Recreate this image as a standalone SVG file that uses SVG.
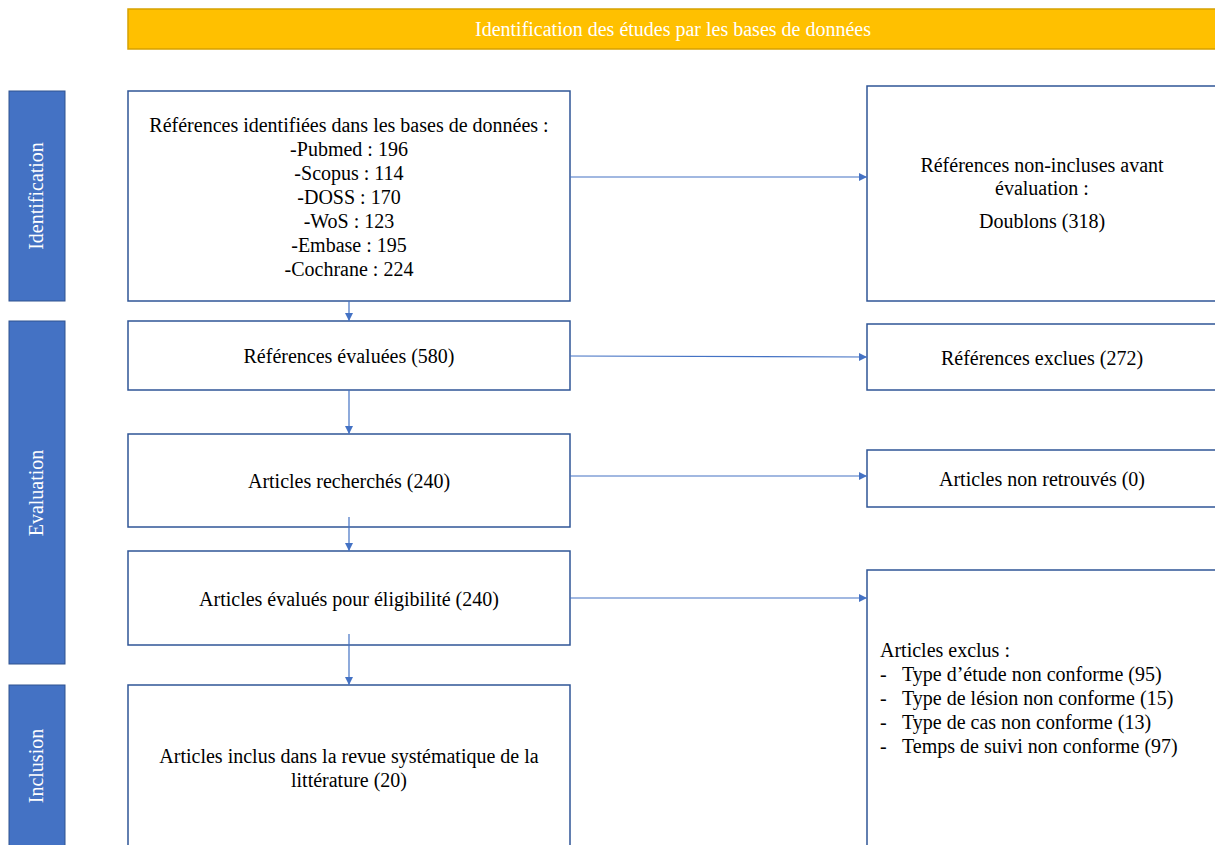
<svg xmlns="http://www.w3.org/2000/svg" width="1215" height="845" viewBox="0 0 1215 845">
<style>
.box{fill:#fff;stroke:#2F5597;stroke-width:1.5}
.side{fill:#4472C4;stroke:#2F528F;stroke-width:1}
.t{font-family:"Liberation Serif","Times New Roman",serif;font-size:20px;fill:#000}
.c{text-anchor:middle}
.w{fill:#fff}
.con{stroke:#4472C4;stroke-width:1.2;fill:none;marker-end:url(#ah)}
</style>
<defs>
<marker id="ah" viewBox="0 0 10 10" refX="10" refY="5" markerWidth="8" markerHeight="8" markerUnits="userSpaceOnUse" orient="auto">
<path d="M0,0 L10,5 L0,10 z" fill="#4472C4"/>
</marker>
</defs>
<rect width="1215" height="845" fill="#fff"/>
<g id="header">
<rect x="128" y="9" width="1092" height="40" fill="#FFC000" stroke="#D6A100" stroke-width="1.5"/>
<text class="t c w" x="673" y="36">Identification des études par les bases de données</text>
</g>
<g id="side-identification">
<rect class="side" x="9" y="91" width="56" height="210"/>
<text class="t c w" transform="translate(43,196) rotate(-90)">Identification</text>
</g>
<g id="side-evaluation">
<rect class="side" x="9" y="321" width="56" height="343"/>
<text class="t c w" transform="translate(43,493) rotate(-90)">Evaluation</text>
</g>
<g id="side-inclusion">
<rect class="side" x="9" y="685" width="56" height="170"/>
<text class="t c w" transform="translate(43,766) rotate(-90)">Inclusion</text>
</g>
<g id="n1">
<rect class="box" x="128" y="91" width="442" height="210"/>
<text class="t c" x="349" y="132">Références identifiées dans les bases de données :</text>
<text class="t c" x="349" y="156">-Pubmed : 196</text>
<text class="t c" x="349" y="180">-Scopus : 114</text>
<text class="t c" x="349" y="204">-DOSS : 170</text>
<text class="t c" x="349" y="228">-WoS : 123</text>
<text class="t c" x="349" y="252">-Embase : 195</text>
<text class="t c" x="349" y="276">-Cochrane : 224</text>
</g>
<g id="n2">
<rect class="box" x="128" y="321" width="442" height="69"/>
<text class="t c" x="349" y="363">Références évaluées (580)</text>
</g>
<g id="n3">
<rect class="box" x="128" y="434" width="442" height="93"/>
<text class="t c" x="349" y="488">Articles recherchés (240)</text>
</g>
<g id="n4">
<rect class="box" x="128" y="551" width="442" height="94"/>
<text class="t c" x="349" y="606">Articles évalués pour éligibilité (240)</text>
</g>
<g id="n5">
<rect class="box" x="128" y="685" width="442" height="170"/>
<text class="t c" x="349" y="763">Articles inclus dans la revue systématique de la</text>
<text class="t c" x="349" y="787">littérature (20)</text>
</g>
<g id="r1">
<rect class="box" x="867" y="86" width="360" height="215"/>
<text class="t c" x="1042" y="172">Références non-incluses avant</text>
<text class="t c" x="1042" y="195">évaluation :</text>
<text class="t c" x="1042" y="228">Doublons (318)</text>
</g>
<g id="r2">
<rect class="box" x="867" y="324" width="360" height="66"/>
<text class="t c" x="1042" y="365">Références exclues (272)</text>
</g>
<g id="r3">
<rect class="box" x="867" y="450" width="360" height="57"/>
<text class="t c" x="1042" y="486">Articles non retrouvés (0)</text>
</g>
<g id="r4">
<rect class="box" x="867" y="570" width="360" height="285"/>
<text class="t" x="880" y="657">Articles exclus :</text>
<text class="t" x="880" y="681">-</text><text class="t" x="902" y="681">Type d’étude non conforme (95)</text>
<text class="t" x="880" y="705">-</text><text class="t" x="902" y="705">Type de lésion non conforme (15)</text>
<text class="t" x="880" y="729">-</text><text class="t" x="902" y="729">Type de cas non conforme (13)</text>
<text class="t" x="880" y="753">-</text><text class="t" x="902" y="753">Temps de suivi non conforme (97)</text>
</g>
<g id="connectors">
<line class="con" x1="349" y1="301" x2="349" y2="321"/>
<line class="con" x1="349" y1="390" x2="349" y2="434"/>
<line class="con" x1="349" y1="517" x2="349" y2="551"/>
<line class="con" x1="349" y1="634" x2="349" y2="685"/>
<line class="con" x1="570" y1="177" x2="867" y2="177"/>
<line class="con" x1="570" y1="356" x2="867" y2="357"/>
<line class="con" x1="570" y1="476" x2="867" y2="476"/>
<line class="con" x1="570" y1="598" x2="867" y2="598"/>
</g>
</svg>
